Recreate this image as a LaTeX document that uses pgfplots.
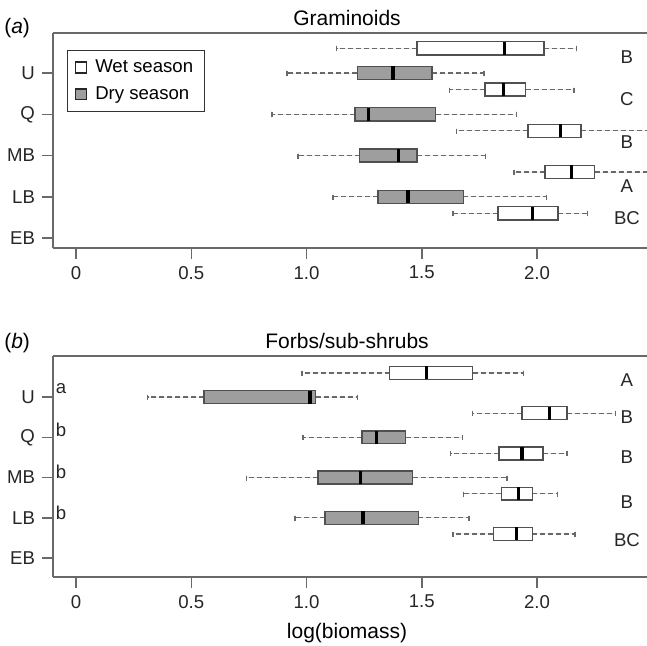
\documentclass[border=0pt]{standalone}
\usepackage{fontspec}
\setmainfont{Liberation Sans}
\usepackage{pgfplots}
\pgfplotsset{compat=1.18}
\usepgfplotslibrary{statistics}

\definecolor{framegray}{RGB}{105,105,105}
\definecolor{boxgray}{RGB}{80,80,80}
\definecolor{dryfill}{RGB}{158,158,158}

\newcommand{\ticksize}{\fontsize{9.3}{11}\selectfont}
\newcommand{\labsize}{\fontsize{10.5}{12}\selectfont}

% one box: position, lower whisker, lower quartile, median, upper quartile, upper whisker
\newcommand{\wetbox}[6]{\addplot[forget plot, draw=boxgray, fill=white, line width=0.7pt,
  boxplot prepared={draw position=#1, lower whisker=#2, lower quartile=#3,
  median=#4, upper quartile=#5, upper whisker=#6}] coordinates {};}
\newcommand{\drybox}[6]{\addplot[forget plot, draw=boxgray, fill=dryfill, line width=0.7pt,
  boxplot prepared={draw position=#1, lower whisker=#2, lower quartile=#3,
  median=#4, upper quartile=#5, upper whisker=#6}] coordinates {};}

\tikzset{letter/.style={font=\ticksize, text=black!85}}

\pgfplotsset{
  panel/.style={
    scale only axis, width=297pt,
    xmin=-0.1, xmax=2.477,
    clip mode=individual,
    axis x line*=box, axis y line*=left,
    axis line style={framegray, line width=1pt},
    xtick={0,0.5,1,1.5,2}, xticklabels={0,0.5,1.0,1.5,2.0},
    ytick={1,2,3,4,5}, yticklabels={EB,LB,MB,Q,U},
    xtick pos=left, ytick pos=left,
    tick align=outside,
    major tick length=5.5pt,
    tick style={framegray, line width=0.8pt},
    tick label style={font=\ticksize, text=black!85},
    boxplot/box extend=0.32,
    boxplot/whisker extend=0.15,
    boxplot/every whisker/.style={framegray, line width=0.6pt, dash pattern=on 2.5pt off 1.5pt},
    boxplot/every median/.style={black, line width=1.6pt},
  },
}

\begin{document}
\begin{tikzpicture}
% ---------- (a) Graminoids ----------
\begin{axis}[panel, at={(0pt,164.5pt)}, anchor=south west,
  height=107.5pt, ymin=0.76, ymax=5.97,
  legend style={at={(0.024,0.921)}, anchor=north west, draw=black!80,
    line width=0.6pt, font=\ticksize, inner xsep=3.5pt, inner ysep=2.5pt,
    row sep=1.5pt},
  legend cell align=left]
\addlegendimage{legend image code/.code={\draw[draw=black!85, fill=white, line width=0.8pt] (0pt,-2.7pt) rectangle (5.4pt,2.7pt); \path (7.5pt,0pt);}}
\addlegendentry{Wet season}
\addlegendimage{legend image code/.code={\draw[draw=black!85, fill=dryfill, line width=0.8pt] (0pt,-2.7pt) rectangle (5.4pt,2.7pt); \path (7.5pt,0pt);}}
\addlegendentry{Dry season}

\wetbox{5.6}{1.13}{1.48}{1.86}{2.03}{2.17}
\drybox{5}{0.915}{1.22}{1.375}{1.545}{1.77}
\wetbox{4.6}{1.62}{1.775}{1.855}{1.95}{2.16}
\drybox{4}{0.85}{1.21}{1.27}{1.56}{1.91}
\wetbox{3.6}{1.65}{1.96}{2.10}{2.19}{2.60}
\drybox{3}{0.963}{1.23}{1.40}{1.48}{1.775}
\wetbox{2.6}{1.90}{2.035}{2.15}{2.25}{2.60}
\drybox{2}{1.115}{1.31}{1.44}{1.68}{2.04}
\wetbox{1.6}{1.635}{1.83}{1.98}{2.09}{2.22}

\node[letter] at (axis cs:2.39,5.39) {B};
\node[letter] at (axis cs:2.39,4.37) {C};
\node[letter] at (axis cs:2.39,3.33) {B};
\node[letter] at (axis cs:2.39,2.26) {A};
\node[letter] at (axis cs:2.39,1.48) {BC};
\node[font=\labsize, anchor=base, yshift=4pt] at (rel axis cs:0.495,1) {Graminoids};
\node[font=\labsize, anchor=base east, xshift=-8pt] at (rel axis cs:0,1) {(\textit{a})};
\end{axis}

% ---------- (b) Forbs/sub-shrubs ----------
\begin{axis}[panel, at={(0pt,0pt)}, anchor=south west,
  height=110.5pt, ymin=0.53, ymax=6.02,
  xlabel={log(biomass)},
  xlabel style={font=\labsize, at={(0.495,0)}, anchor=base, yshift=-30.5pt}]
\wetbox{5.6}{0.98}{1.36}{1.52}{1.72}{1.94}
\drybox{5}{0.31}{0.555}{1.015}{1.04}{1.22}
\wetbox{4.6}{1.72}{1.935}{2.055}{2.13}{2.34}
\drybox{4}{0.985}{1.24}{1.305}{1.43}{1.675}
\wetbox{3.6}{1.625}{1.835}{1.935}{2.025}{2.13}
\drybox{3}{0.74}{1.05}{1.235}{1.46}{1.87}
\wetbox{2.6}{1.68}{1.845}{1.92}{1.98}{2.09}
\drybox{2}{0.95}{1.08}{1.245}{1.485}{1.705}
\wetbox{1.6}{1.635}{1.81}{1.91}{1.98}{2.165}

\node[letter] at (axis cs:2.39,5.42) {A};
\node[letter] at (axis cs:2.39,4.50) {B};
\node[letter] at (axis cs:2.39,3.51) {B};
\node[letter] at (axis cs:2.39,2.39) {B};
\node[letter] at (axis cs:2.39,1.45) {BC};
\node[letter] at (axis cs:-0.065,5.20) {a};
\node[letter] at (axis cs:-0.065,4.18) {b};
\node[letter] at (axis cs:-0.065,3.14) {b};
\node[letter] at (axis cs:-0.065,2.12) {b};
\node[font=\labsize, anchor=base, yshift=4pt] at (rel axis cs:0.495,1) {Forbs/sub-shrubs};
\node[font=\labsize, anchor=base east, xshift=-8pt, yshift=4pt] at (rel axis cs:0,1) {(\textit{b})};
\end{axis}

\pgfresetboundingbox
\path (-26.5pt,-34pt) rectangle (297pt,288.5pt);
\end{tikzpicture}
\end{document}
